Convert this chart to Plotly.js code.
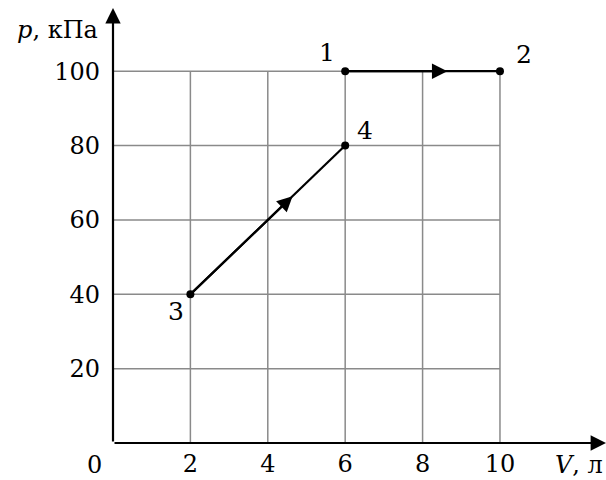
<!DOCTYPE html>
<html>
<head>
<meta charset="utf-8">
<script src="https://cdn.plot.ly/plotly-3.0.1.min.js"></script>
<style>
  body { margin: 0; background: #fff; }
  #chart { width: 606px; height: 480px; }
</style>
</head>
<body>
<div id="chart"></div>
<script>
// process 1-2 (isobaric) and 3-4
var V12 = [6, 10];
var p12 = [100, 100];
var V34 = [2, 6];
var p34 = [40, 80];

var pointNames = ["1", "2", "3", "4"];
var pointV = [6, 10, 2, 6];
var pointP = [100, 100, 40, 80];

// grid / tick values
var gridV = [2, 4, 6, 8, 10];
var gridP = [20, 40, 60, 80, 100];

var font = "DejaVu Serif";
var fs = 24;
var xMax = 12.74, yMax = 117;

var trace1 = {
    x: V12, y: p12, mode: "lines+markers", type: "scatter",
    line: {color: "black", width: 2.2},
    marker: {color: "black", size: 8},
    hoverinfo: "skip"
};
var trace2 = {
    x: V34, y: p34, mode: "lines+markers", type: "scatter",
    line: {color: "black", width: 2.2},
    marker: {color: "black", size: 8},
    hoverinfo: "skip"
};

// grid lines as shapes
var shapes = [];
gridV.forEach(v => shapes.push({
    type: "line", xref: "x", yref: "y", x0: v, x1: v, y0: 0, y1: 100,
    line: {color: "#8a8a8a", width: 1.5}, layer: "below"
}));
gridP.forEach(p => shapes.push({
    type: "line", xref: "x", yref: "y", x0: 0, x1: 10, y0: p, y1: p,
    line: {color: "#8a8a8a", width: 1.5}, layer: "below"
}));

var annotations = [];
// axes with arrows
annotations.push({x: xMax, y: 0, ax: 0, ay: 0, axref: "x", ayref: "y", xref: "x", yref: "y",
    text: "", showarrow: true, arrowhead: 2, arrowsize: 1.4, arrowwidth: 2.2, arrowcolor: "black"});
annotations.push({x: 0, y: yMax, ax: 0, ay: 0, axref: "x", ayref: "y", xref: "x", yref: "y",
    text: "", showarrow: true, arrowhead: 2, arrowsize: 1.4, arrowwidth: 2.2, arrowcolor: "black"});

// direction arrows along the processes
var frac = 0.66;
[[V12, p12], [V34, p34]].forEach(seg => {
    var vs = seg[0], ps = seg[1];
    annotations.push({
        x: vs[0] + (vs[1] - vs[0]) * frac, y: ps[0] + (ps[1] - ps[0]) * frac,
        ax: vs[0], ay: ps[0], axref: "x", ayref: "y", xref: "x", yref: "y",
        text: "", showarrow: true, arrowhead: 2, arrowsize: 1.4, arrowwidth: 2.2, arrowcolor: "black"
    });
});

// point labels
var shiftX = [-18, 24, -14, 20];
var shiftY = [19, 17, -17, 15];
pointNames.forEach((n, i) => annotations.push({
    x: pointV[i], y: pointP[i], xref: "x", yref: "y", text: n, showarrow: false,
    xshift: shiftX[i], yshift: shiftY[i], font: {family: font, size: fs + 1, color: "black"}
}));

// axis labels and origin (paper coords from pixel spots)
function px(x) { return (x - 113) / 493; }
function py(y) { return (443 - y) / 435; }
annotations.push({x: px(57), y: py(30), xref: "paper", yref: "paper", xanchor: "center", yanchor: "middle",
    text: "<i>p</i>, кПа", showarrow: false, font: {family: font, size: fs, color: "black"}});
annotations.push({x: px(94), y: py(465), xref: "paper", yref: "paper", xanchor: "center", yanchor: "middle",
    text: "0", showarrow: false, font: {family: font, size: fs, color: "black"}});
annotations.push({x: px(579), y: py(465), xref: "paper", yref: "paper", xanchor: "center", yanchor: "middle",
    text: "<i>V</i>, л", showarrow: false, font: {family: font, size: fs, color: "black"}});

var layout = {
    width: 606, height: 480,
    margin: {l: 113, r: 0, t: 8, b: 37},
    paper_bgcolor: "white", plot_bgcolor: "white",
    showlegend: false,
    font: {family: font, color: "black"},
    xaxis: {range: [0, xMax], showgrid: false, zeroline: false, showline: false,
        tickvals: gridV, ticks: "", tickfont: {family: font, size: fs, color: "black"},
        ticklabelstandoff: 4, fixedrange: true},
    yaxis: {range: [0, yMax], showgrid: false, zeroline: false, showline: false,
        tickvals: gridP, ticks: "", tickfont: {family: font, size: fs, color: "black"},
        ticklabelstandoff: 12, fixedrange: true},
    shapes: shapes,
    annotations: annotations
};

Plotly.newPlot("chart", [trace1, trace2], layout, {displayModeBar: false, staticPlot: true});
</script>
</body>
</html>
